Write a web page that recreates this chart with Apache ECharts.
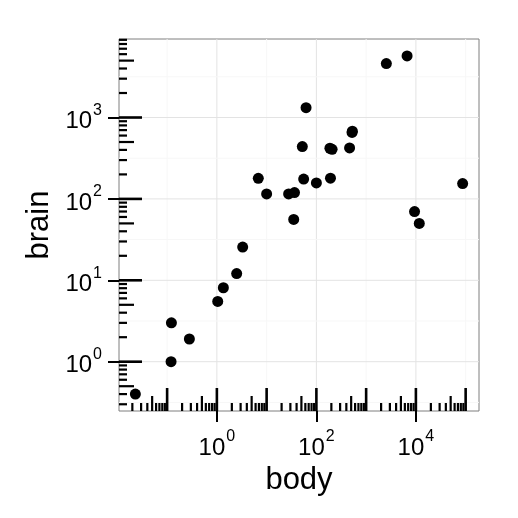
<!DOCTYPE html>
<html><head><meta charset="utf-8">
<script src="https://cdn.jsdelivr.net/npm/echarts@6/dist/echarts.min.js"></script>
<style>html,body{margin:0;padding:0;background:#fff}#c{width:518px;height:518px}</style>
</head><body><div id="c"></div>
<script>
// MASS::Animals — body (kg) and brain (g)
const animals = ["Mountain beaver","Cow","Grey wolf","Goat","Guinea pig","Dipliodocus","Asian elephant","Donkey","Horse","Potar monkey","Cat","Giraffe","Gorilla","Human","African elephant","Triceratops","Rhesus monkey","Kangaroo","Golden hamster","Mouse","Rabbit","Sheep","Jaguar","Chimpanzee","Rat","Brachiosaurus","Mole","Pig"];
const body = [1.35,465,36.33,27.66,1.04,11700,2547,187.1,521,10,3.3,529,207,62,6654,9400,6.8,35,0.12,0.023,2.5,55.5,100,52.16,0.28,87000,0.122,192];
const brain = [8.1,423,119.5,115,5.5,50,4603,419,655,115,25.6,680,406,1320,5712,70,179,56,1,0.4,12.1,175,157,440,1.9,154.5,3,180];
const xLabelTicks = [1, 100, 10000];
const yLabelTicks = [1, 10, 100, 1000];
const xMinorGrid = [0.1, 10, 1000, 100000];
const yMinorGrid = [Math.pow(10,-0.5), Math.pow(10,0.5), Math.pow(10,1.5), Math.pow(10,2.5), Math.pow(10,3.5)];

// ggplot-like 5% expansion in log space
function expand(arr){
  const l = arr.map(v=>Math.log10(v));
  const lo = Math.min(...l), hi = Math.max(...l), r = hi-lo;
  return [Math.pow(10, lo-0.05*r), Math.pow(10, hi+0.05*r)];
}
const [xMin, xMax] = expand(body);
const [yMin, yMax] = expand(brain);

// annotation_logticks positions
function logTicks(lo, hi){
  const out = [];
  for (let d = Math.floor(Math.log10(lo)); d <= Math.ceil(Math.log10(hi)); d++) {
    for (let m = 1; m <= 9; m++) {
      const v = m*Math.pow(10,d);
      if (v >= lo && v <= hi) out.push([v, m===1?23:(m===5?15:8), m===1?2.6:2.2]);
    }
  }
  return out;
}
const xLog = logTicks(xMin, xMax);
const yLog = logTicks(yMin, yMax);

const FONT = 'Liberation Sans, Arial, sans-serif';
function fmt(v){ return '{b|10}{s|' + Math.round(Math.log10(v)) + '}'; }
const rich = {
  b:{fontSize:24, fontFamily:FONT, color:'#000', lineHeight:32, verticalAlign:'bottom'},
  s:{fontSize:16, fontFamily:FONT, color:'#000', lineHeight:32, verticalAlign:'top', padding:[1,0,0,1]}
};

const chart = echarts.init(document.getElementById('c'), null, {renderer:'canvas'});
chart.setOption({
  animation:false,
  backgroundColor:'#fff',
  grid:{left:119, right:39, top:39, bottom:107, show:true, borderColor:'#7f7f7f', borderWidth:1, backgroundColor:'#fff'},
  xAxis:{type:'log', logBase:10, min:xMin, max:xMax,
    name:'body', nameLocation:'middle', nameGap:54,
    nameTextStyle:{fontSize:31, fontFamily:FONT, color:'#000'},
    axisLine:{show:false}, splitLine:{show:false}, minorTick:{show:false}, minorSplitLine:{show:false},
    axisTick:{show:true, customValues:xLabelTicks, length:11, lineStyle:{color:'#000', width:2}},
    axisLabel:{customValues:xLabelTicks, formatter:fmt, rich:rich, margin:17}
  },
  yAxis:{type:'log', logBase:10, min:yMin, max:yMax,
    name:'brain', nameLocation:'middle', nameGap:64, nameRotate:90,
    nameTextStyle:{fontSize:31, fontFamily:FONT, color:'#000'},
    axisLine:{show:false}, splitLine:{show:false}, minorTick:{show:false}, minorSplitLine:{show:false},
    axisTick:{show:true, customValues:yLabelTicks, length:11, lineStyle:{color:'#000', width:2}},
    axisLabel:{customValues:yLabelTicks, formatter:fmt, rich:rich, margin:17}
  },
  series:[
    {type:'custom', silent:true, clip:true, z:1,
     data:[].concat(xLabelTicks.map(v=>[v,0]), xMinorGrid.map(v=>[v,1])),
     encode:{x:0},
     renderItem:(p, api)=>{
       const v = api.value(0), minor = api.value(1);
       const a = api.coord([v, yMin]), b = api.coord([v, yMax]);
       return {type:'line', shape:{x1:a[0],y1:a[1],x2:b[0],y2:b[1]}, style:{stroke: minor?'#f7f7f7':'#e3e3e3', lineWidth:1}};
     }},
    {type:'custom', silent:true, clip:true, z:1,
     data:[].concat(yLabelTicks.map(v=>[v,0]), yMinorGrid.map(v=>[v,1])),
     encode:{y:0},
     renderItem:(p, api)=>{
       const v = api.value(0), minor = api.value(1);
       const a = api.coord([xMin, v]), b = api.coord([xMax, v]);
       return {type:'line', shape:{x1:a[0],y1:a[1],x2:b[0],y2:b[1]}, style:{stroke: minor?'#f7f7f7':'#e3e3e3', lineWidth:1}};
     }},
    {type:'custom', silent:true, z:3,
     data:xLog, encode:{x:0},
     renderItem:(p, api)=>{
       const v = api.value(0), len = api.value(1), w = api.value(2);
       const a = api.coord([v, yMin]);
       return {type:'line', shape:{x1:a[0],y1:a[1],x2:a[0],y2:a[1]-len}, style:{stroke:'#000', lineWidth:w}};
     }},
    {type:'custom', silent:true, z:3,
     data:yLog, encode:{y:0},
     renderItem:(p, api)=>{
       const v = api.value(0), len = api.value(1), w = api.value(2);
       const a = api.coord([xMin, v]);
       return {type:'line', shape:{x1:a[0],y1:a[1],x2:a[0]+len,y2:a[1]}, style:{stroke:'#000', lineWidth:w}};
     }},
    {type:'scatter', z:4, symbol:'circle', symbolSize:11,
     itemStyle:{color:'#000', opacity:1},
     data: body.map((b,i)=>[b, brain[i], animals[i]])}
  ]
});
</script></body></html>
